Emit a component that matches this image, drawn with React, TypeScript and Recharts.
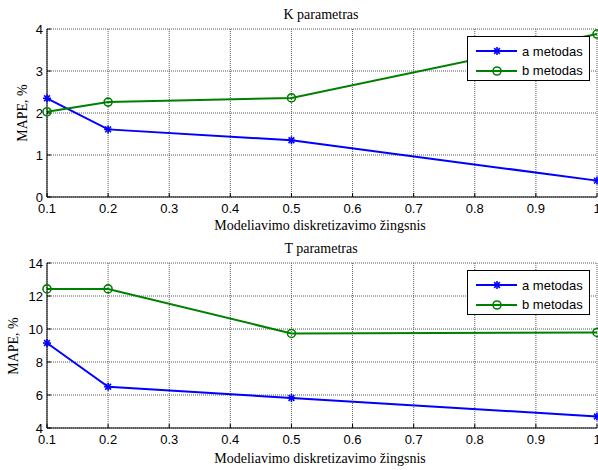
import {
  LineChart,
  Line,
  XAxis,
  YAxis,
  CartesianGrid,
  Legend,
} from 'recharts';

const steps = [0.1, 0.2, 0.5, 1];
const xTicks = [0.1, 0.2, 0.3, 0.4, 0.5, 0.6, 0.7, 0.8, 0.9, 1];

const kMethodA = [2.35, 1.61, 1.35, 0.39];
const kMethodB = [2.03, 2.26, 2.36, 3.88];
const kTicks = [0, 1, 2, 3, 4];

const tMethodA = [9.15, 6.5, 5.82, 4.7];
const tMethodB = [12.43, 12.43, 9.73, 9.79];
const tTicks = [4, 6, 8, 10, 12, 14];

const seriesNames = ['a metodas', 'b metodas'];

const BLUE = '#0000ff';
const GREEN = '#008000';
const SANS = '"Liberation Sans", Arial, sans-serif';
const SERIF = '"Liberation Serif", "Times New Roman", serif';

const tickStyle = { fontFamily: SANS, fontSize: 13, fill: '#000' };

function buildRows(a: number[], b: number[]) {
  return steps.map((x, i) => ({ x, a: a[i], b: b[i] }));
}

// MATLAB style '*' marker
function StarDot(props: any) {
  const { cx, cy } = props;
  if (cx == null || cy == null) return null;
  const r = 4;
  const d = r * 0.72;
  return (
    <g stroke={BLUE} strokeWidth={1.6}>
      <line x1={cx - r} y1={cy} x2={cx + r} y2={cy} />
      <line x1={cx} y1={cy - r} x2={cx} y2={cy + r} />
      <line x1={cx - d} y1={cy - d} x2={cx + d} y2={cy + d} />
      <line x1={cx - d} y1={cy + d} x2={cx + d} y2={cy - d} />
    </g>
  );
}

function LegendBox() {
  const rows = [
    { name: seriesNames[0], color: BLUE, star: true },
    { name: seriesNames[1], color: GREEN, star: false },
  ];
  return (
    <div
      style={{
        width: 123,
        height: 45,
        boxSizing: 'border-box',
        border: '1px solid #000',
        background: '#fff',
        position: 'relative',
        fontFamily: SANS,
        fontSize: 13,
        color: '#000',
      }}
    >
      {rows.map((row, i) => (
        <div
          key={row.name}
          style={{
            position: 'absolute',
            left: 8,
            top: 4 + i * 19.5,
            height: 20,
            display: 'flex',
            alignItems: 'center',
          }}
        >
          <svg width={42} height={12}>
            <line x1={0} y1={6} x2={41} y2={6} stroke={row.color} strokeWidth={2} />
            {row.star ? (
              <StarDot cx={21} cy={6} />
            ) : (
              <circle cx={21} cy={6} r={4} fill="none" stroke={GREEN} strokeWidth={1.6} />
            )}
          </svg>
          <span style={{ marginLeft: 4, whiteSpace: 'nowrap' }}>{row.name}</span>
        </div>
      ))}
    </div>
  );
}

interface PanelProps {
  title: string;
  a: number[];
  b: number[];
  yTicks: number[];
  top: number;
  bottomHeight: number;
  titleY: number;
  xLabelY: number;
  yLabelX: number;
  yLabelY: number;
}

function Panel({
  title,
  a,
  b,
  yTicks,
  top,
  bottomHeight,
  titleY,
  xLabelY,
  yLabelX,
  yLabelY,
}: PanelProps) {
  const data = buildRows(a, b);
  const yDomain: [number, number] = [yTicks[0], yTicks[yTicks.length - 1]];
  return (
    <LineChart
      width={598}
      height={235}
      data={data}
      margin={{ top, right: 1, left: 0, bottom: 0 }}
    >
      <CartesianGrid stroke="#5a5a5a" strokeDasharray="1 1" />
      <XAxis
        dataKey="x"
        type="number"
        domain={[0.1, 1]}
        ticks={xTicks}
        interval={0}
        height={bottomHeight}
        tick={tickStyle}
        tickSize={-4}
        tickMargin={11}
        tickLine={{ stroke: '#000' }}
        axisLine={{ stroke: '#000' }}
        tickFormatter={(v: number) => String(Number(v.toFixed(1)))}
        label={() => (
          <g fontFamily={SERIF} fontSize={14} fill="#000" textAnchor="middle">
            <text x={321} y={titleY}>
              {title}
            </text>
            <text x={320} y={xLabelY}>
              Modeliavimo diskretizavimo žingsnis
            </text>
          </g>
        )}
      />
      <XAxis
        xAxisId="top"
        orientation="top"
        dataKey="x"
        type="number"
        domain={[0.1, 1]}
        ticks={xTicks}
        interval={0}
        height={0}
        tick={false}
        tickSize={-4}
        tickLine={{ stroke: '#000' }}
        axisLine={{ stroke: '#000' }}
      />
      <YAxis
        type="number"
        domain={yDomain}
        ticks={yTicks}
        interval={0}
        width={47}
        tick={tickStyle}
        tickSize={-4}
        tickMargin={8}
        tickLine={{ stroke: '#000' }}
        axisLine={{ stroke: '#000' }}
        label={() => (
          <text
            transform={`translate(${yLabelX},${yLabelY}) rotate(-90)`}
            textAnchor="middle"
            dominantBaseline="central"
            fontFamily={SERIF}
            fontSize={14}
            fill="#000"
          >
            MAPE, %
          </text>
        )}
      />
      <YAxis
        yAxisId="right"
        orientation="right"
        type="number"
        domain={yDomain}
        ticks={yTicks}
        interval={0}
        width={0}
        tick={false}
        tickSize={-4}
        tickLine={{ stroke: '#000' }}
        axisLine={{ stroke: '#000' }}
      />
      <Legend
        layout="horizontal"
        verticalAlign="middle"
        align="center"
        wrapperStyle={{ left: 467, top: top + 7, width: 123, height: 45 }}
        content={() => <LegendBox />}
      />
      <Line
        dataKey="a"
        name={seriesNames[0]}
        type="linear"
        stroke={BLUE}
        strokeWidth={2}
        dot={<StarDot />}
        activeDot={false}
        isAnimationActive={false}
      />
      <Line
        dataKey="b"
        name={seriesNames[1]}
        type="linear"
        stroke={GREEN}
        strokeWidth={2}
        dot={{ r: 4, fill: 'none', stroke: GREEN, strokeWidth: 1.6 }}
        activeDot={false}
        isAnimationActive={false}
      />
    </LineChart>
  );
}

export default function App() {
  return (
    <div
      style={{
        position: 'absolute',
        left: 0,
        top: 0,
        width: 598,
        height: 470,
        background: '#fff',
      }}
    >
      <Panel
        title="K parametras"
        a={kMethodA}
        b={kMethodB}
        yTicks={kTicks}
        top={29}
        bottomHeight={38}
        titleY={19}
        xLabelY={230}
        yLabelX={22}
        yLabelY={113}
      />
      <Panel
        title="T parametras"
        a={tMethodA}
        b={tMethodB}
        yTicks={tTicks}
        top={28}
        bottomHeight={42}
        titleY={18}
        xLabelY={228}
        yLabelX={13}
        yLabelY={111}
      />
    </div>
  );
}
